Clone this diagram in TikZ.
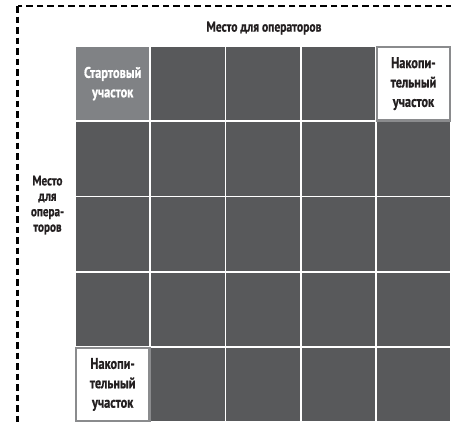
\documentclass[tikz,border=0pt]{standalone}
\usepackage{fontspec}
\setmainfont{PT Sans}[FakeStretch=0.8, BoldFeatures={FakeBold=0.8}]
\definecolor{cellgray}{HTML}{58595B}
\definecolor{startgray}{HTML}{808285}
\definecolor{edgegray}{HTML}{8A8B8D}
\definecolor{ink}{HTML}{231F20}
\begin{document}
\begin{tikzpicture}[x=1bp,y=-1bp,
  cell/.style={fill=cellgray, minimum width=73.3bp, minimum height=73.3bp,
    inner sep=0pt, outer sep=0pt, anchor=north west},
  startcell/.style={cell, fill=startgray, text=white},
  storecell/.style={cell, fill=white, draw=edgegray, line width=2.5bp, text=ink},
  celltext/.style={font=\bfseries\fontsize{15.5}{19.5}\selectfont, align=center},
  zonelabel/.style={font=\bfseries\fontsize{14}{15.5}\selectfont, align=center, text=ink},
  fence/.style={draw=black, line width=2.3bp, dash pattern=on 6.5bp off 4bp}
]
\clip (0,0) rectangle (451,421);
\fill[white] (0,0) rectangle (451,421);

% dashed boundary of the work area
\draw[fence] (17.5,6) rectangle (490,460);

% 5x5 grid of work cells
\foreach \r in {0,...,4}{
  \foreach \c in {0,...,4}{
    \pgfmathtruncatemacro\k{\r*5+\c}
    \ifnum\k=0 \else\ifnum\k=4 \else\ifnum\k=20 \else
      \node[cell] (c\r\c) at ({76+75.2*\c},{47+75.2*\r}) {};
    \fi\fi\fi
  }
}

% special cells
\node[startcell, celltext] (start) at (76,47) {Стартовый\\участок};
\node[storecell, celltext] (storeA) at ({76+75.2*4},47) {Накопи-\\тельный\\участок};
\node[storecell, celltext] (storeB) at (76,{47+75.2*4}) {Накопи-\\тельный\\участок};

% operator zones
\node[zonelabel, font=\bfseries\fontsize{14.5}{16}\selectfont] (topzone) at (264,28) {Место для операторов};
\node[zonelabel] (sidezone) at (47.5,205) {Место\\для\\опера-\\торов};
\end{tikzpicture}
\end{document}
